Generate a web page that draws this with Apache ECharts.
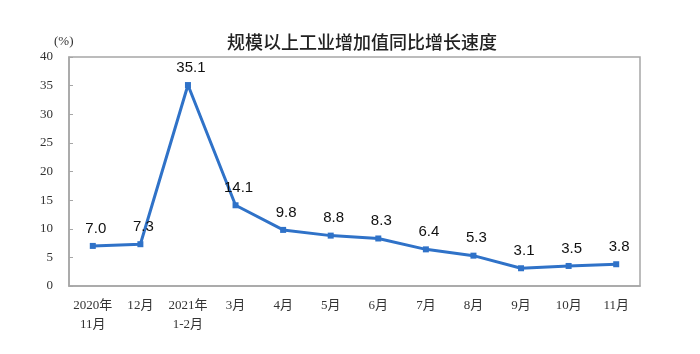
<!DOCTYPE html>
<html>
<head>
<meta charset="utf-8">
<script src="https://cdn.jsdelivr.net/npm/echarts@6/dist/echarts.min.js"></script>
<style>
  html, body { margin: 0; padding: 0; background: #fff; }
  #chart { width: 700px; height: 354px; }
</style>
</head>
<body>
<div id="chart"></div>
<script>
// 月份
var categories = ['2020年\n11月', '12月', '2021年\n1-2月', '3月', '4月', '5月', '6月', '7月', '8月', '9月', '10月', '11月'];
// 同比增长 (%)
var growth = [7.0, 7.3, 35.1, 14.1, 9.8, 8.8, 8.3, 6.4, 5.3, 3.1, 3.5, 3.8];
var yTicks = [0, 5, 10, 15, 20, 25, 30, 35, 40];

var labelFont = '"Liberation Serif", "Noto Sans CJK SC", serif';
var myChart = echarts.init(document.getElementById('chart'));

var option = {
    animation: false,
    title: {
        text: '规模以上工业增加值同比增长速度',
        left: 357,
        textAlign: 'center',
        top: 28,
        textStyle: {
            fontFamily: '"Noto Sans CJK SC", sans-serif',
            fontSize: 18,
            fontWeight: 500,
            color: '#222'
        }
    },
    graphic: [{
        type: 'text',
        left: 54,
        top: 35,
        style: { text: '(%)', font: '13px ' + labelFont, fill: '#333' }
    }],
    grid: {
        left: 69,
        right: 60,
        top: 57,
        bottom: 68,
        show: true,
        borderColor: '#a6a6a6',
        borderWidth: 1.5
    },
    xAxis: {
        type: 'category',
        data: categories,
        axisLine: { lineStyle: { color: '#a6a6a6', width: 1.5 } },
        axisTick: { inside: true, length: 4, lineStyle: { color: '#a6a6a6' } },
        axisLabel: {
            fontFamily: labelFont,
            fontSize: 13,
            color: '#333',
            margin: 10,
            lineHeight: 19,
            interval: 0
        }
    },
    yAxis: {
        type: 'value',
        min: yTicks[0],
        max: yTicks[yTicks.length - 1],
        interval: 5,
        splitLine: { show: false },
        axisLine: { show: true, lineStyle: { color: '#a6a6a6', width: 1.5 } },
        axisTick: { show: true, inside: true, length: 4, lineStyle: { color: '#a6a6a6' } },
        axisLabel: {
            fontFamily: labelFont,
            fontSize: 13,
            color: '#333',
            margin: 16
        }
    },
    series: [{
        type: 'line',
        data: growth,
        symbol: 'rect',
        symbolSize: 6,
        lineStyle: { color: '#2f72c8', width: 3 },
        itemStyle: { color: '#2f72c8' },
        label: {
            show: true,
            position: 'top',
            distance: 7,
            offset: [3, 0],
            formatter: function (p) { return p.value.toFixed(1); },
            fontFamily: '"Liberation Sans", Arial, sans-serif',
            fontSize: 15,
            color: '#111'
        }
    }]
};
myChart.setOption(option);
</script>
</body>
</html>
